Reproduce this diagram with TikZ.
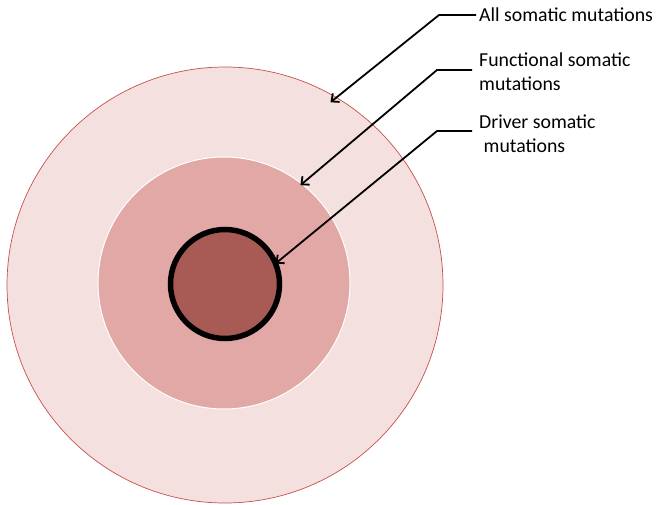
\documentclass[tikz,border=0pt]{standalone}
\usepackage{fontspec}
\setmainfont{Carlito}
\usetikzlibrary{arrows.meta, positioning, calc, shadows}

\begin{document}
\begin{tikzpicture}[
        x=1pt, y=-1pt,
        ring/.style={circle, inner sep=0pt, outer sep=0pt},
        lbl/.style={inner sep=3pt, align=left, font=\fontsize{19.8}{23.5}\selectfont},
        arrow/.style={line width=1.8pt, -{Straight Barb[length=6pt, width=11pt]}}
    ]
        \useasboundingbox (0,0) rectangle (660,505);

        % Rings
        \node[ring, minimum size=436pt, fill={rgb,255:red,243;green,224;blue,223}, draw={rgb,255:red,200;green,80;blue,77}, line width=0.7pt] (outer) at (225,285) {};
        \node[ring, minimum size=252pt, fill={rgb,255:red,225;green,168;blue,166}, draw=white, line width=1pt] (mid) at (224,283) {};
        \node[ring, minimum size=109pt, fill={rgb,255:red,167;green,91;blue,84}, draw=black, line width=5.5pt,
              drop shadow={opacity=0.25, shadow xshift=1pt, shadow yshift=-1.5pt}] (core) at (225,284) {};

        % Labels
        \node[lbl, anchor=west] (allLbl) at (476,15) {All somatic mutations};
        \node[lbl, anchor=north west] (funLbl) at (476,50) {Functional somatic\\mutations};
        \node[lbl, anchor=north west] (drvLbl) at (476,112) {Driver somatic\\\ mutations};

        % Stubs
        \coordinate (funStub) at (472,70);
        \coordinate (drvStub) at (472,131);

        % Arrows
        \draw[arrow] (allLbl.west) -- ++(-37,0) -- ($(outer.center)!0.968!(outer.60)$);
        \draw[arrow] (funStub) -- ++(-35,0) -- ($(mid.center)!0.985!(mid.52)$);
        \draw[arrow] (drvStub) -- ++(-35,0) -- (core.22);
    \end{tikzpicture}
\end{document}
